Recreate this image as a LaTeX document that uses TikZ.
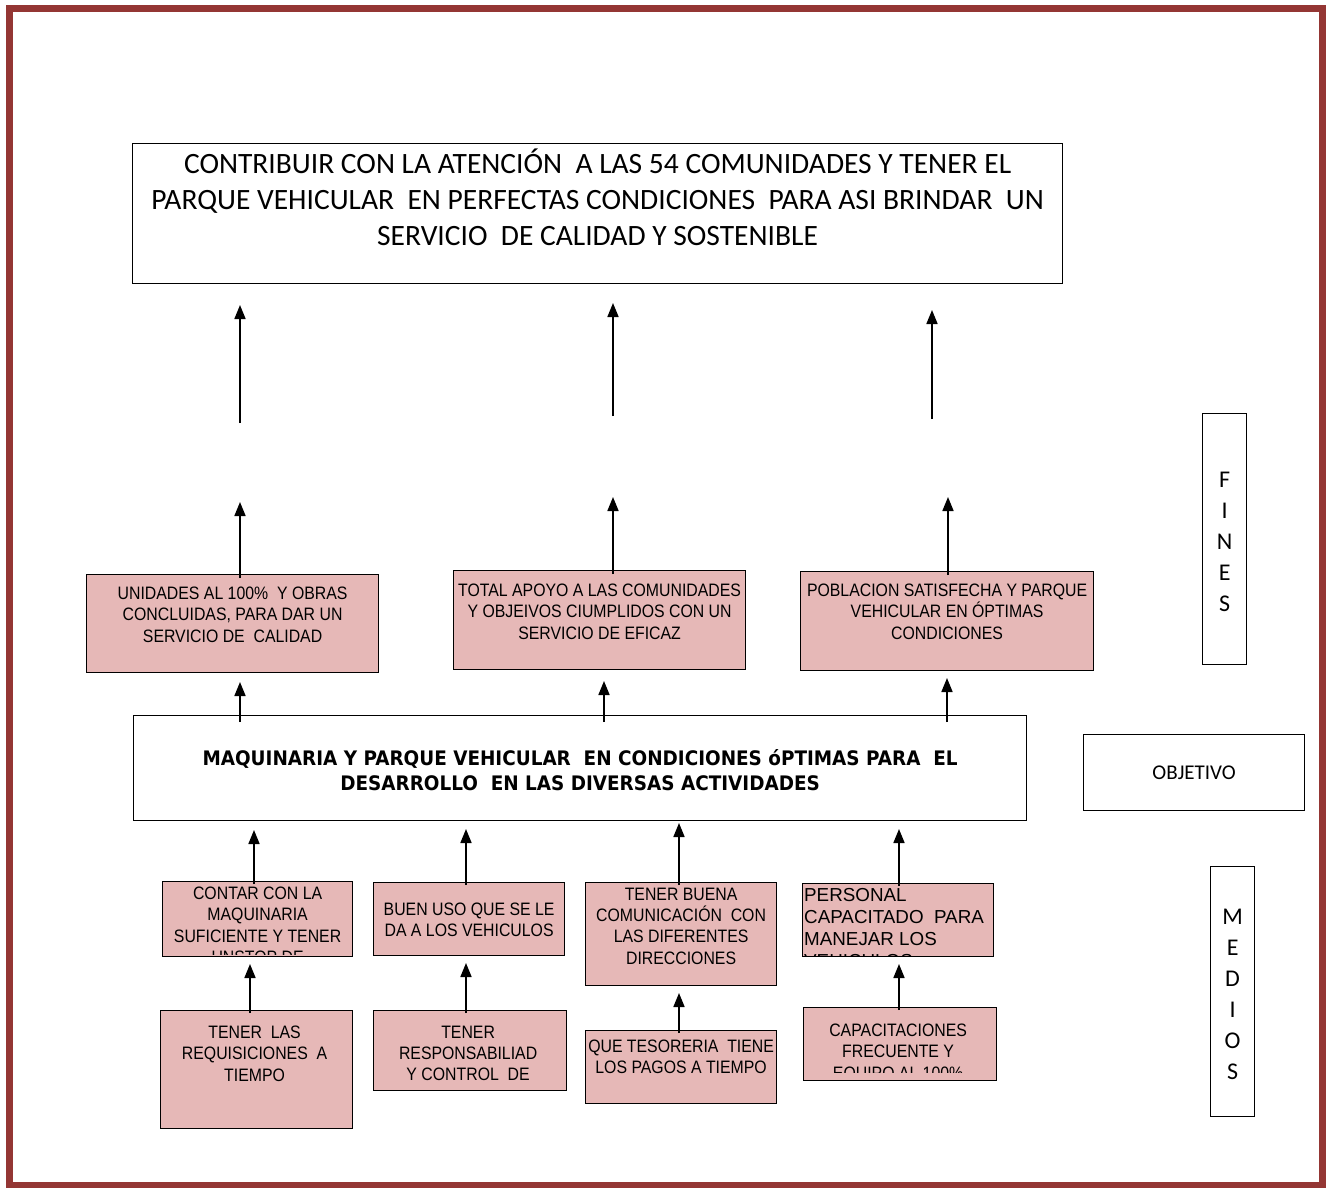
\documentclass[tikz,border=0pt]{standalone}
\usepackage{fontspec}
\setmainfont{Carlito}
\newfontfamily\arialn[FakeStretch=0.88]{Liberation Sans}
\newfontfamily\arialm{Liberation Sans}
\newfontfamily\tahoma[FakeStretch=0.92]{DejaVu Sans}
\usetikzlibrary{arrows.meta}
\definecolor{rosa}{HTML}{E6B8B7}
\definecolor{borde}{HTML}{943634}
\tikzset{
	marco/.style={draw=black,line width=1.2pt,inner sep=0pt,anchor=north west},
	caja/.style={marco,fill=rosa},
	rotulo/.style={inner sep=0pt,minimum width=0pt,minimum height=0pt,align=center,anchor=north},
	texto/.style={rotulo,font=\arialn\fontsize{18}{21.4}\selectfont},
	letras/.style={rotulo,font=\fontsize{24}{31}\selectfont},
	flecha/.style={-{Triangle[length=14pt,width=11pt]},line width=1.7pt},
}
\begin{document}
\begin{tikzpicture}[x=1pt,y=-1pt]
				\useasboundingbox (0,0) rectangle (1326,1188);
				\fill[white] (0,0) rectangle (1326,1188);
				\draw[borde,line width=7pt] (9,9) rectangle (1322.5,1185.5);
				\node[marco,minimum width=930pt,minimum height=140pt,path picture={\node[rotulo,font=\fontsize{29.5}{36}\selectfont] at ([yshift=-10.5pt]path picture bounding box.north) {CONTRIBUIR CON LA ATENCI\smash{Ó}N\ \ A LAS 54 COMUNIDADES Y TENER EL\\PARQUE VEHICULAR\ \ EN PERFECTAS CONDICIONES\ \ PARA ASI BRINDAR\ \ UN\\SERVICIO\ \ DE CALIDAD Y SOSTENIBLE};}] (fin) at (132,143) {};
				\coordinate (t1) at (240,305); \coordinate (b1) at (240,423);
				\coordinate (t2) at (613,303); \coordinate (b2) at (613,416);
				\coordinate (t3) at (932,310); \coordinate (b3) at (932,419);
				\draw[flecha] (b1) -- (t1);
				\draw[flecha] (b2) -- (t2);
				\draw[flecha] (b3) -- (t3);
				\node[caja,minimum width=292pt,minimum height=98pt,path picture={\node[texto] at ([yshift=-11.5pt]path picture bounding box.north) {UNIDADES AL 100\%\ \ Y OBRAS\\CONCLUIDAS, PARA DAR UN\\SERVICIO DE\ \ CALIDAD};}] (f1) at (86,574) {};
				\node[caja,minimum width=292pt,minimum height=99pt,path picture={\node[texto] at ([yshift=-12.5pt]path picture bounding box.north) {TOTAL APOYO A LAS COMUNIDADES\\Y OBJEIVOS CIUMPLIDOS CON UN\\SERVICIO DE EFICAZ};}] (f2) at (453,570) {};
				\node[caja,minimum width=293pt,minimum height=99pt,path picture={\node[texto] at ([yshift=-11.5pt]path picture bounding box.north) {POBLACION SATISFECHA Y PARQUE\\VEHICULAR EN ÓPTIMAS\\CONDICIONES};}] (f3) at (800,571) {};
				\coordinate (u1) at (240,502); \coordinate (u2) at (613,497); \coordinate (u3) at (948,497);
				\draw[flecha] ([yshift=-4pt]u1 |- f1.north) -- (u1);
				\draw[flecha] ([yshift=-4pt]u2 |- f2.north) -- (u2);
				\draw[flecha] ([yshift=-4pt]u3 |- f3.north) -- (u3);
				\node[marco,minimum width=893pt,minimum height=105pt,path picture={\node[rotulo,font=\tahoma\bfseries\fontsize{20}{25}\selectfont] at ([yshift=-33.7pt]path picture bounding box.north) {MAQUINARIA Y PARQUE VEHICULAR\ \ EN CONDICIONES óPTIMAS PARA\ \ EL\\DESARROLLO\ \ EN LAS DIVERSAS ACTIVIDADES};}] (obj) at (133,715) {};
				\coordinate (o1) at (240,682); \coordinate (o2) at (604,681); \coordinate (o3) at (947,678);
				\draw[flecha] ([yshift=-7pt]o1 |- obj.north) -- (o1);
				\draw[flecha] ([yshift=-7pt]o2 |- obj.north) -- (o2);
				\draw[flecha] ([yshift=-7pt]o3 |- obj.north) -- (o3);
				\node[marco,minimum width=44pt,minimum height=251pt,path picture={\node[letras] at ([yshift=-58.3pt]path picture bounding box.north) {F\\I\\N\\E\\S};}] (fines) at (1202,413) {};
				\node[marco,minimum width=221pt,minimum height=76pt,font=\fontsize{21}{25}\selectfont] (objetivo) at (1083,734) {OBJETIVO};
				\node[marco,minimum width=44pt,minimum height=250pt,path picture={\node[letras] at ([yshift=-42.3pt]path picture bounding box.north) {M\\E\\D\\I\\O\\S};}] (medios) at (1210,866) {};
				\node[caja,minimum width=190pt,minimum height=75pt,path picture={\clip (path picture bounding box.north west) rectangle ([yshift=2pt]path picture bounding box.south east); \node[texto] at ([yshift=-4.5pt]path picture bounding box.north) {CONTAR CON LA\\MAQUINARIA\\SUFICIENTE Y TENER\\UNSTOP DE};}] (m1) at (162,881) {};
				\node[caja,minimum width=191pt,minimum height=73pt,path picture={\node[texto] at ([yshift=-19.5pt]path picture bounding box.north) {BUEN USO QUE SE LE\\DA A LOS VEHICULOS};}] (m2) at (373,882) {};
				\node[caja,minimum width=191pt,minimum height=103pt,path picture={\node[texto] at ([yshift=-4.5pt]path picture bounding box.north) {TENER BUENA\\COMUNICACIÓN\ \ CON\\LAS DIFERENTES\\DIRECCIONES};}] (m3) at (585,882) {};
				\node[caja,minimum width=191pt,minimum height=73pt,path picture={\clip (path picture bounding box.north west) rectangle ([yshift=1pt]path picture bounding box.south east); \node[texto,anchor=north west,align=left,font=\arialm\fontsize{18.8}{22}\selectfont] at ([xshift=1pt,yshift=-4.5pt]path picture bounding box.north west) {PERSONAL\\CAPACITADO\ \ PARA\\MANEJAR LOS\\VEHICULOS};}] (m4) at (802,883) {};
				\coordinate (q1) at (254,830); \coordinate (q2) at (466,829); \coordinate (q3) at (679,823); \coordinate (q4) at (899,829);
				\draw[flecha] ([yshift=-3pt]q1 |- m1.north) -- (q1);
				\draw[flecha] ([yshift=-3pt]q2 |- m2.north) -- (q2);
				\draw[flecha] ([yshift=-3pt]q3 |- m3.north) -- (q3);
				\draw[flecha] ([yshift=-3pt]q4 |- m4.north) -- (q4);
				\node[caja,minimum width=192pt,minimum height=118pt,path picture={\node[texto] at ([xshift=-2pt,yshift=-14.5pt]path picture bounding box.north) {TENER\ \ LAS\\REQUISICIONES\ \ A\\TIEMPO};}] (r1) at (160,1010) {};
				\node[caja,minimum width=193pt,minimum height=80pt,path picture={\node[texto] at ([xshift=-2pt,yshift=-14.5pt]path picture bounding box.north) {TENER\\RESPONSABILIAD\\Y CONTROL\ \ DE};}] (r2) at (373,1010) {};
				\node[caja,minimum width=191pt,minimum height=73pt,path picture={\node[texto] at ([yshift=-8.5pt]path picture bounding box.north) {QUE TESORERIA\ \ TIENE\\LOS PAGOS A TIEMPO};}] (r3) at (585,1030) {};
				\node[caja,minimum width=193pt,minimum height=73pt,path picture={\clip (path picture bounding box.north west) rectangle ([yshift=8pt]path picture bounding box.south east); \node[texto] at ([xshift=-2pt,yshift=-15.5pt]path picture bounding box.north) {CAPACITACIONES\\FRECUENTE Y\\EQUIPO AL 100\%};}] (r4) at (803,1007) {};
				\coordinate (s1) at (250,964); \coordinate (s2) at (466,963); \coordinate (s3) at (679,993); \coordinate (s4) at (899,964);
				\draw[flecha] ([yshift=-3pt]s1 |- r1.north) -- (s1);
				\draw[flecha] ([yshift=-3pt]s2 |- r2.north) -- (s2);
				\draw[flecha] ([yshift=-3pt]s3 |- r3.north) -- (s3);
				\draw[flecha] ([yshift=-3pt]s4 |- r4.north) -- (s4);
\end{tikzpicture}
\end{document}
